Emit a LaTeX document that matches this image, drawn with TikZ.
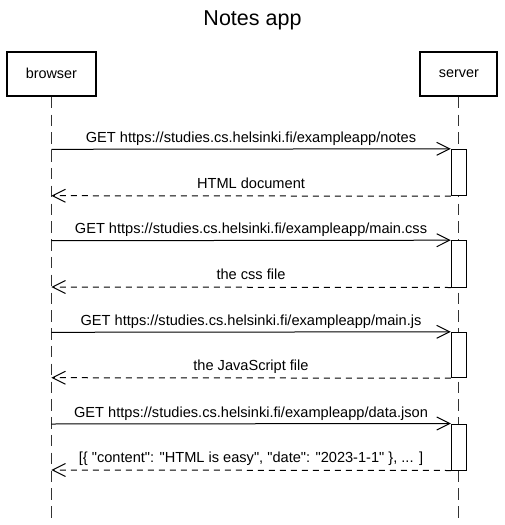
\documentclass[tikz,border=0pt]{standalone}
\usepackage{fontspec}
\setmainfont{Liberation Sans}[Ligatures=TeXOff]
\usetikzlibrary{arrows.meta}
\tikzset{
  actor/.style={draw, line width=2pt, minimum height=44pt, inner sep=0pt,
    font=\fontsize{14.4}{17}\selectfont},
  lifeline/.style={line width=1.2pt, draw=black!80, dash pattern=on 11.5pt off 6.3pt},
  actbox/.style={draw, fill=white, line width=1pt, minimum width=15pt, inner sep=0pt},
  msg/.style={line width=1pt, -{Straight Barb[length=13pt,width=13pt]}},
  ret/.style={line width=1pt, dash pattern=on 6pt off 5pt, -{Straight Barb[length=13pt,width=13pt]}},
  lbl/.style={font=\fontsize{14.6}{17}\selectfont, anchor=base, inner sep=0pt},
  titlestyle/.style={font=\fontsize{21.5}{25}\selectfont, anchor=base, inner sep=0pt}
}
\begin{document}
\begin{tikzpicture}[x=1pt,y=-1pt]
\useasboundingbox (0,0) rectangle (505,525);
\node[titlestyle] (title) at (252.5,25) {Notes app};
\node[actor, minimum width=88.7pt] (browser) at (51.4,73.7) {browser};
\node[actor, minimum width=77pt] (server) at (458.8,73.7) {server};
\coordinate (bEnd) at (51.4,522);
\coordinate (sEnd) at (458.8,522);
\draw[lifeline] (browser.south) -- (bEnd);
\draw[lifeline] (server.south) -- (sEnd);
% activation boxes
\node[actbox, minimum height=46.4pt] (a1) at (458.8,172.5) {};
\node[actbox, minimum height=46.3pt] (a2) at (458.8,263.85) {};
\node[actbox, minimum height=45.4pt] (a3) at (458.8,355) {};
\node[actbox, minimum height=46pt] (a4) at (458.8,447) {};
% browser-side points
\coordinate (b1) at (51.4,149.3);
\coordinate (r1) at (51.4,195.7);
\coordinate (b2) at (51.4,240.7);
\coordinate (r2) at (51.4,287);
\coordinate (b3) at (51.4,332.3);
\coordinate (r3) at (51.4,377.7);
\coordinate (b4) at (51.4,424);
\coordinate (r4) at (51.4,470);
% messages
\draw[msg] (b1) -- (a1.north west);
\node[lbl] (m1) at (251,142.5) {GET https://studies.cs.helsinki.fi/exampleapp/notes};
\draw[ret] (a1.south west) -- (r1);
\node[lbl] (t1) at (251,188.5) {HTML document};
\draw[msg] (b2) -- (a2.north west);
\node[lbl] (m2) at (251,233.9) {GET https://studies.cs.helsinki.fi/exampleapp/main.css};
\draw[ret] (a2.south west) -- (r2);
\node[lbl] (t2) at (251,279.8) {the css file};
\draw[msg] (b3) -- (a3.north west);
\node[lbl] (m3) at (251,325.5) {GET https://studies.cs.helsinki.fi/exampleapp/main.js};
\draw[ret] (a3.south west) -- (r3);
\node[lbl] (t3) at (251,370.5) {the JavaScript file};
\draw[msg] (b4) -- (a4.north west);
\node[lbl] (m4) at (251,417.2) {GET https://studies.cs.helsinki.fi/exampleapp/data.json};
\draw[ret] (a4.south west) -- (r4);
\node[lbl] (t4) at (251,462.8) {[\{ "content": "HTML is easy", "date": "2023-1-1" \}, ... ]};
\end{tikzpicture}
\end{document}
